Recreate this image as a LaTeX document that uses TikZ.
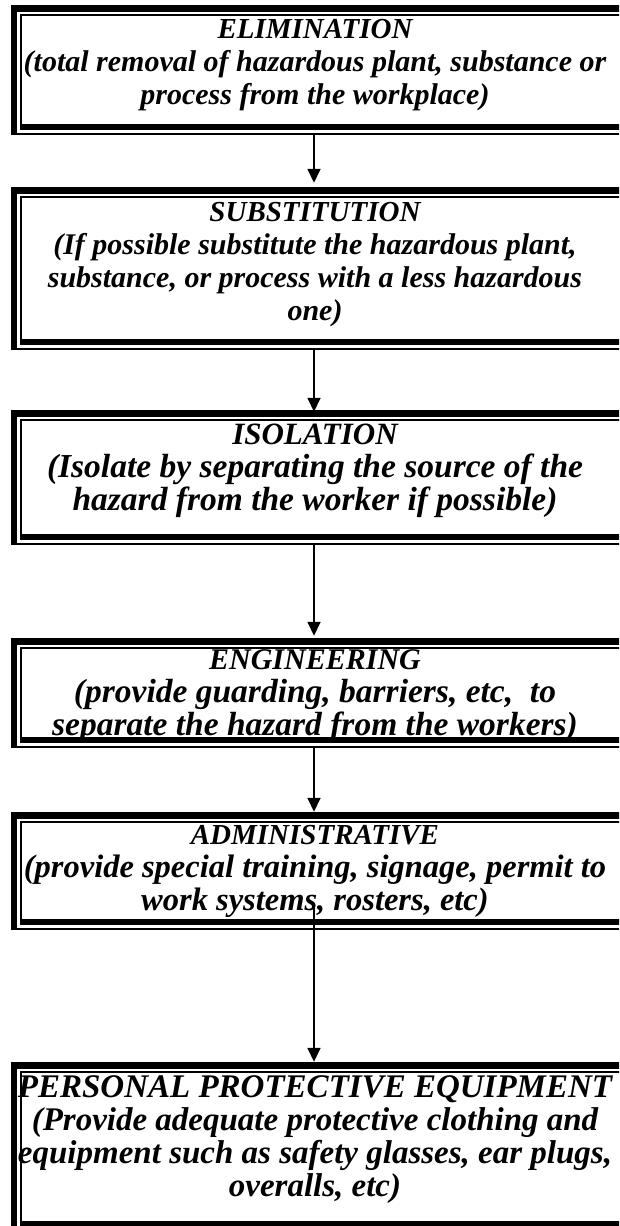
\documentclass[tikz,border=0pt]{standalone}
\usepackage{fontspec}
\setmainfont{Liberation Serif}
\usetikzlibrary{arrows.meta,calc}
\newcommand\bodysize[1]{\fontsize{#1}{33}\selectfont}
\newcommand\ttl[2]{{\fontsize{#1}{33}\selectfont #2}}
\tikzset{
  boxframe/.style={rectangle, minimum width=608pt, inner sep=0pt, draw=none},
  boxtext/.style={anchor=north, align=center, inner sep=0pt,
    font=\bfseries\itshape\bodysize{#1}},
  flowarrow/.style={line width=1.6pt, -{Triangle[width=13pt,length=14pt]}}
}
\newcommand\hzframe[1]{%
  \fill (#1.north west) rectangle ([xshift=20pt,yshift=-7pt]#1.north east);
  \fill ([xshift=9pt,yshift=-9pt]#1.north west) rectangle ([xshift=20pt,yshift=-11pt]#1.north east);
  \fill (#1.north west) rectangle ([xshift=6pt]#1.south west);
  \fill ([xshift=9pt,yshift=-9pt]#1.north west) rectangle ([xshift=11pt,yshift=11pt]#1.south west);
  \fill ([xshift=6pt]#1.south west) rectangle ([xshift=20pt,yshift=2pt]#1.south east);
  \fill ([xshift=9pt,yshift=5pt]#1.south west) rectangle ([xshift=20pt,yshift=11pt]#1.south east);
}
\begin{document}
\begin{tikzpicture}[x=1pt,y=1pt]
\useasboundingbox (0,0) rectangle (619,-1226);
\clip (0,0) rectangle (619,-1226);
\fill[white] (0,0) rectangle (619,-1226);

\node[boxframe, minimum height=130pt] (box1) at (315,-70) {};
\node[boxframe, minimum height=163pt] (box2) at (315,-268.5) {};
\node[boxframe, minimum height=135pt] (box3) at (315,-477.5) {};
\node[boxframe, minimum height=110pt] (box4) at (315,-693) {};
\node[boxframe, minimum height=118pt] (box5) at (315,-871) {};
\node[boxframe, minimum height=170pt] (box6) at (315,-1147) {};

\foreach \b in {box1,box2,box3,box4,box5,box6} {\hzframe{\b}}

\node[boxtext=30] (t1) at ([yshift=-14pt]box1.north) {\ttl{29}{ELIMINATION}\\(total removal of hazardous plant, substance or\\process from the workplace)};
\node[boxtext=30] (t2) at ([yshift=-15pt]box2.north) {\ttl{29}{SUBSTITUTION}\\(If possible substitute the hazardous plant,\\substance, or process with a less hazardous\\one)};
\node[boxtext=33.5] (t3) at ([yshift=-14pt]box3.north) {\ttl{31}{ISOLATION}\\(Isolate by separating the source of the\\hazard from the worker if possible)};
\node[boxtext=33.5] (t4) at ([yshift=-12pt]box4.north) {\ttl{30}{ENGINEERING}\\(provide guarding, barriers, etc,~ to\\separate the hazard from the workers)};
\node[boxtext=32.5] (t5) at ([yshift=-13pt]box5.north) {\ttl{29}{ADMINISTRATIVE}\\(provide special training, signage, permit to\\work systems, rosters, etc)};
\node[boxtext=33] (t6) at ([yshift=-14pt]box6.north) {\ttl{33}{PERSONAL PROTECTIVE EQUIPMENT}\\(Provide adequate protective clothing and\\equipment such as safety glasses, ear plugs,\\overalls, etc)};

\draw[flowarrow] ([xshift=-1pt]box1.south) -- ([xshift=-1pt,yshift=4pt]box2.north);
\draw[flowarrow] ([xshift=-1pt]box2.south) -- ([xshift=-1pt,yshift=-2pt]box3.north);
\draw[flowarrow] ([xshift=-1pt]box3.south) -- ([xshift=-1pt,yshift=2pt]box4.north);
\draw[flowarrow] ([xshift=-1pt]box4.south) -- ([xshift=-1pt,yshift=0pt]box5.north);
\draw[flowarrow] ([xshift=-1pt,yshift=22pt]box5.south) -- ([xshift=-1pt,yshift=0pt]box6.north);
\end{tikzpicture}
\end{document}
